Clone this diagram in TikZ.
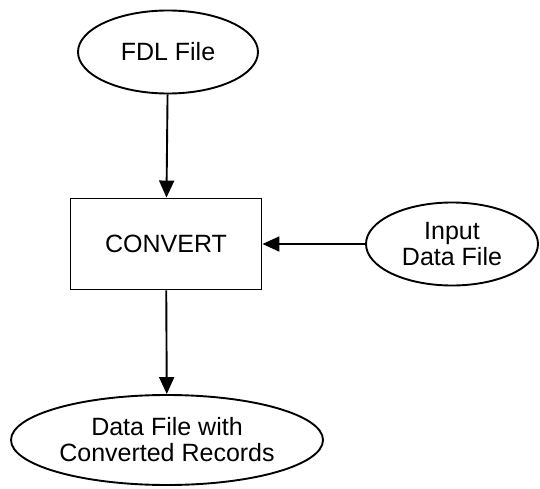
\documentclass[tikz,border=0pt]{standalone}
\usepackage{fontspec}
\setmainfont{Liberation Sans}
\usetikzlibrary{shapes.geometric,arrows.meta}
\tikzset{
  file/.style={draw, ellipse, line width=1.9pt, inner sep=0pt, align=center,
    font=\fontsize{25}{26}\selectfont},
  prog/.style={draw, rectangle, line width=1.9pt, inner sep=0pt,
    font=\fontsize{25}{26}\selectfont},
  flow/.style={line width=1.9pt, -{Triangle[length=17pt,width=15pt]}}
}

\begin{document}
\begin{tikzpicture}[x=1pt,y=-1pt]
				%%%%% START %%%%%
				\useasboundingbox (0, 0) rectangle (540, 489);
				
				\node[file, minimum width=180, minimum height=83] (fdl) at (168, 52) {FDL File};
				\node[prog, minimum width=191, minimum height=91] (convert) at (166, 244) {CONVERT};
				\node[file, minimum width=172, minimum height=83] (input) at (452, 244) {Input\\Data File};
				\node[file, minimum width=312, minimum height=90] (output) at (167, 440) {Data File with\\Converted Records};
				
				\draw[flow] (fdl) -- (convert);
				\draw[flow] (input) -- (convert);
				\draw[flow] (convert) -- (output);
				%%%%% END %%%%%
\end{tikzpicture}
\end{document}
